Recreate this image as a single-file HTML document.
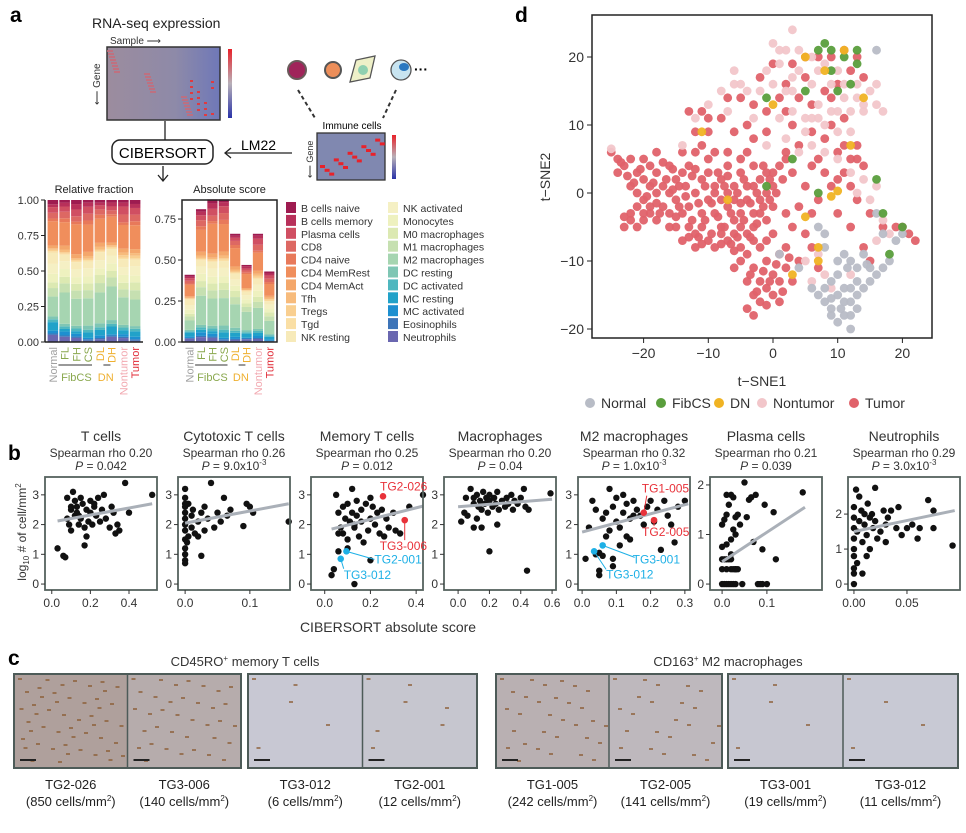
<!DOCTYPE html>
<html><head><meta charset="utf-8"><style>
body{margin:0;background:#fff;}
svg{display:block;font-family:"Liberation Sans",sans-serif;}
</style></head><body>
<svg id="fig" width="966" height="833" viewBox="0 0 966 833">
<defs>
<linearGradient id="cb" x1="0" y1="0" x2="0" y2="1"><stop offset="0" stop-color="#e8222a"/><stop offset="0.5" stop-color="#b8b0b8"/><stop offset="1" stop-color="#2a33a8"/></linearGradient>
<linearGradient id="hm" x1="0" y1="0" x2="1" y2="0"><stop offset="0" stop-color="#9c8c9e"/><stop offset="0.6" stop-color="#8e8aa8"/><stop offset="1" stop-color="#6f78b8"/></linearGradient>
</defs>
<rect x="0" y="0" width="966" height="833" fill="#fff"/>
<g>
<text x="10" y="22" font-size="21" font-weight="bold">a</text>
<text x="92" y="28" font-size="14" fill="#222">RNA-seq expression</text>
<text x="110" y="44" font-size="10" fill="#333">Sample ⟶</text>
<text x="0" y="0" font-size="10" fill="#333" transform="translate(100,105) rotate(-90)">⟵ Gene</text>
<rect x="107" y="47" width="113" height="73" fill="url(#hm)" stroke="#333" stroke-width="1.5"/>
<g id="hmred"></g>
<rect x="228" y="49" width="4" height="69" fill="url(#cb)"/>
<line x1="165" y1="121" x2="165" y2="140" stroke="#222" stroke-width="1.3"/>
<rect x="112" y="140" width="101" height="24" rx="8" fill="#fff" stroke="#222" stroke-width="1.5"/>
<text x="162.5" y="158" font-size="15" text-anchor="middle">CIBERSORT</text>
<line x1="163" y1="166" x2="163" y2="180" stroke="#222" stroke-width="1.3"/><path d="M158,175 L163,181 L168,175" fill="none" stroke="#222" stroke-width="1.3"/>
<text x="241" y="150" font-size="14">LM22</text>
<line x1="225" y1="153" x2="292" y2="153" stroke="#222" stroke-width="1.3"/><path d="M231,148 L225,153 L231,158" fill="none" stroke="#222" stroke-width="1.3"/>
<text x="352" y="129" font-size="10" text-anchor="middle">Immune cells</text>
<rect x="317" y="133" width="68" height="47" fill="#8088b0" stroke="#333" stroke-width="1.3"/>
<g id="imred"></g>
<rect x="392" y="135" width="4" height="44" fill="url(#cb)"/>
<text x="0" y="0" font-size="9" fill="#333" transform="translate(313,178) rotate(-90)">⟵ Gene</text>
<line x1="298" y1="90" x2="315" y2="118" stroke="#333" stroke-width="2" stroke-dasharray="4,3"/>
<line x1="396" y1="90" x2="383" y2="118" stroke="#333" stroke-width="2" stroke-dasharray="4,3"/>
<circle cx="297" cy="70" r="9" fill="#a0245a" stroke="#6a5a5a" stroke-width="2"/>
<circle cx="333" cy="70" r="8" fill="#ec8e5a" stroke="#555" stroke-width="2"/>
<path d="M350,82 L356,60 L375,56 L370,78 Z" fill="#eef0c8" stroke="#555" stroke-width="1.3"/><circle cx="363" cy="70" r="5" fill="#8fd0b0"/>
<circle cx="401" cy="70" r="10" fill="#c8e4f0" stroke="#555" stroke-width="1.3"/><ellipse cx="404" cy="67" rx="5" ry="4" fill="#2a78c0"/>
<text x="414" y="74" font-size="14" font-weight="bold">···</text>
</g>
<g id="bars"></g>
<g id="tsne"></g>
<g id="scat"></g>
<g id="ihc"></g>
</svg>
<script>
// ===== Panel a data =====
const cellTypes=["B cells naive","B cells memory","Plasma cells","CD8","CD4 naive","CD4 MemRest","CD4 MemAct","Tfh","Tregs","Tgd","NK resting","NK activated","Monocytes","M0 macrophages","M1 macrophages","M2 macrophages","DC resting","DC activated","MC resting","MC activated","Eosinophils","Neutrophils"];
const cellColors=["#9e1b50","#b8305a","#d04f62","#dd6863","#e8795a","#f08e5c","#f4a76b","#f7bb7c","#f9cf90","#fadfa5","#f7eab9","#f5f0c4","#eef1bf","#dce9b2","#c6e0b1","#a6d5b1","#7fc6b4","#4fb7bf","#21a2c9","#1d8fd0","#3d74b8","#6a67b0"];
const sampleGroups=["Normal","FL","FH","CS","DL","DH","Nontumor","Tumor"];
const groupColors=["#a0a0a0","#8aa84e","#8aa84e","#8aa84e","#efb030","#efb030","#f2a8b0","#e02a36"];
const fractions=[
[.03,.02,.03,.02,.02,.02,.02,.03],[.02,.03,.04,.03,.02,.03,.03,.03],[.04,.04,.05,.05,.03,.03,.06,.05],[.04,.05,.04,.05,.04,.03,.06,.05],
[.02,.03,.02,.03,.03,.02,.02,.03],[.17,.18,.22,.2,.18,.2,.18,.18],[.02,.03,.03,.03,.03,.02,.03,.03],[.01,.02,.01,.02,.02,.01,.02,.02],
[.01,.01,.01,.01,.01,.01,.02,.02],[.01,.01,.01,.01,.01,.01,.01,.01],[.08,.05,.05,.05,.06,.05,.06,.05],[.07,.06,.06,.06,.06,.06,.06,.07],
[.06,.06,.05,.05,.05,.06,.06,.05],[.04,.05,.05,.05,.06,.05,.05,.06],[.06,.07,.06,.06,.07,.07,.06,.07],[.14,.24,.2,.2,.23,.26,.21,.2],
[.02,.02,.02,.03,.03,.03,.02,.02],[.02,.02,.02,.02,.02,.02,.02,.02],[.06,.02,.02,.04,.04,.06,.03,.04],[.02,.03,.02,.01,.02,.01,.02,.02],
[.01,.01,.01,.01,.01,.01,.01,.01],[.05,.04,.03,.01,.02,.04,.03,.01]];
const absTotals=[.41,.81,.87,.87,.66,.47,.66,.43];
const relTicks=[0,.25,.5,.75,1];
const relTickLabels=["0.00","0.25","0.50","0.75","1.00"];
const absTicks=[0,.25,.5,.75];
const absTickLabels=["0.00","0.25","0.50","0.75"];

// ===== Panel d data (t-SNE) =====
const tumorPts=[[-25,6],[-24,5],[-23,4],[-24,3],[-22,5],[-21,3],[-22,1],[-20,2],[-21,0],[-19,1],[-20,-1],[-18,3],[-18,0],[-17,-2],[-19,-3],[-22,-4],[-23,-5],[-21,-5],[-20,-4],[-18,-4],[-16,-3],[-16,0],[-15,2],[-14,3],[-15,-1],[-14,-3],[-13,-5],[-12,-6],[-14,-7],[-12,-8],[-10,-7],[-11,-5],[-13,-2],[-12,0],[-11,2],[-13,4],[-10,3],[-9,1],[-10,-1],[-9,-3],[-8,-5],[-9,-8],[-7,-7],[-6,-6],[-5,-8],[-4,-6],[-6,-4],[-7,-2],[-5,-3],[-4,-1],[-6,1],[-5,3],[-3,1],[-2,-1],[-3,-3],[-1,0],[-2,2],[0,1],[-1,3],[1,4],[0,-2],[-1,-4],[-3,-5],[-8,2],[-7,4],[-12,6],[-14,6],[-18,6],[-16,4],[-20,5],[-17,1],[-15,-5],[-11,-3],[-8,-1],[-6,-1],[-4,1],[-2,-3],[-7,0],[-10,5],[-3,4],[0,3],[-5,-5],[-8,-6],[-16,-5],[-19,-2],
[-23.5,4.5],[-22.5,2.5],[-21.5,1.5],[-20.5,3.5],[-19.5,-0.5],[-18.5,1.5],[-17.5,-3],[-16.5,2],[-15.5,0.5],[-14.5,-2],[-13.5,1],[-12.5,-4],[-11.5,-6.5],[-10.5,-4],[-9.5,-6],[-8.5,-3.5],[-7.5,-5],[-6.5,-7.5],[-5.5,-6.5],[-4.5,-4],[-3.5,-6.5],[-2.5,-4.5],[-1.5,-2],[-0.5,-1],[0.5,0],[-0.5,2],[-1.5,4],[1.5,2],[2,5],[-2.5,0],[-3.5,-1.5],[-4.5,2],[-5.5,0],[-6.5,-3],[-7.5,1],[-8.5,3],[-9.5,-1.5],[-10.5,1],[-11.5,-1.5],[-12.5,2.5],[-13.5,-0.5],[-14.5,1],[-15.5,3.5],[-17,4.5],[-19,4],[-21,-2],[-22,-3],[-23,-3.5],[-20,-3],[-18,-1.5],[-15,-3.5],[-13,-6.5],[-11,-7.5],[-8,-7.5],[-6,-8.5],[-3,-7],[-5,-1.5],[-9,0],[-12,3.5],[-7,2.5],
[-2,-8],[-1,-10],[-3,-11],[-2,-13],[-4,-13],[-3,-15],[-1,-14],[0,-12],[1,-13],[2,-11],[0,-15],[-2,-16],[-4,-17],[-3,-18],[1,-16],[3,-13],[4,-10],[2,-8],[0,-6],[3,-5],[5,-6],[6,-3],[4,-2],[6,-8],[7,-11],[2,-3],[-5,-10],[-6,-11],[-4,-9],[-1,-7],[1,-9],[-1.5,-11.5],[-2.5,-14.5],[-0.5,-13],[0.5,-10.5],[1.5,-14.5],[-3.5,-12],[-1,-16.5],[2.5,-9.5],
[-13,12],[-11,12],[-12,9],[-10,11],[-8,11],[-6,9],[-4,10],[-3,8],[-1,9],[-7,14],[-5,14],[-3,13],[-1,12],[1,14],[2,12],[-2,17],[0,19],[3,19],[2,16],[5,17],[4,14],[6,13],[8,15],[9,14],[10,16],[12,18],[13,20],[11,21],[7,20],[5,20],[9,20],[14,17],[3,10],[6,9],[8,8],[10,6],[12,5],[13,7],[14,4],[11,3],[8,3],[6,4],[9,1],[12,1],[7,-1],[10,-3],[12,-5],[14,-8],[15,-10],[17,-5],[19,-5],[21,-6],[20,-5],[22,-7],[15,-3],[13,-1],[9,10],[11,11],[7,5],[4,7],[-9,6],[-11,7],[-7,6],[-5,5],[2,6],[11,7],[13,5],[10,2],[3,3],[5,1],[-10,9],[-4,6]];
const nontumorPts=[[0,22],[2,21],[1,19],[-1,18],[4,21],[6,20],[8,19],[10,18],[-6,18],[-5,16],[-8,15],[-7,12],[-4,15],[-2,15],[0,16],[2,15],[4,18],[6,16],[7,13],[5,11],[3,12],[1,11],[-1,7],[2,8],[4,6],[6,7],[8,10],[9,12],[10,9],[11,14],[13,14],[15,15],[16,13],[17,12],[14,12],[12,12],[8,6],[10,5],[12,3],[14,2],[16,1],[13,0],[15,-1],[17,-4],[18,-6],[16,-7],[5,-10],[7,-9],[8,-12],[6,-13],[9,-14],[12,-12],[3,24],[11,16],[7,18],[-10,13],[-12,11],[-14,7],[-25,6.5],[3,15],[5,9],[9,16],[13,16],[6,11],[1,21],[3,17],[7,11],[10,12],[12,9],[14,13],[16,16],[-3,11],[-6,16]];
const normalPts=[[7,-5],[8,-6],[6,-14],[7,-15],[8,-16],[9,-17],[10,-15],[11,-16],[12,-18],[13,-17],[10,-19],[11,-14],[12,-14],[9,-13],[8,-14],[13,-15],[14,-14],[10,-10],[11,-9],[12,-10],[13,-11],[14,-9],[15,-11],[16,-12],[17,-11],[18,-10],[17,-6],[19,-7],[20,-6],[16,-3],[12,-20],[9,-18],[4,-11],[16,21],[1,-9],[10,-12],[11,-18],[12,-16],[15,-13],[9,-15.5],[10.5,-17],[11.5,-11],[13,-13],[14.5,-10.5],[8,-8]];
const fibcsPts=[[7,21],[8,22],[9,21],[11,20],[13,21],[13,19],[12,16],[10,15],[9,18],[-1,14],[3,5],[16,2],[18,-9],[20,-5],[7,0],[17,-3],[-1,1],[5,15]];
const dnPts=[[11,21],[8,18],[5,20],[14,14],[0,13],[-11,9],[12,7],[9,-0.5],[10,0.3],[5,-3.5],[7,-8],[7,-10],[3,-12],[-7,-1]];
const tsneXTicks=[-20,-10,0,10,20];
const tsneYTicks=[-20,-10,0,10,20];

// ===== Panel b data =====
const scTitles=["T cells","Cytotoxic T cells","Memory T cells","Macrophages","M2 macrophages","Plasma cells","Neutrophils"];
const scRho=["0.20","0.26","0.25","0.20","0.32","0.21","0.29"];
const scP=["0.042","9.0x10","0.012","0.04","1.0x10","0.039","3.0x10"];
const scPExp=["","-3","","","-3","","-3"];
const sc1X=[.03,.06,.07,.08,.09,.1,.1,.11,.12,.12,.13,.14,.15,.15,.16,.17,.18,.18,.19,.2,.2,.21,.22,.23,.24,.25,.26,.27,.28,.3,.31,.32,.33,.34,.35,.38,.4,.52,.08,.13,.17,.22,.1,.14];
const sc1Y=[1.2,.95,.9,2.9,2.0,2.5,1.8,3.1,2.8,2.3,2.6,2.0,2.9,2.2,2.7,1.3,2.5,1.6,2.1,2.8,2.4,2.0,2.6,2.3,2.9,2.1,2.5,3.0,2.2,1.9,2.6,2.4,1.7,2.0,1.8,3.4,2.4,3.0,2.2,2.4,1.9,2.7,2.6,2.3];
const sc2X=[0,0,0,0,0,0,0,0,0,0,0,0,.005,.005,.01,.01,.012,.015,.02,.02,.025,.025,.03,.03,.035,.04,.045,.05,.055,.06,.065,.07,.09,.095,.1,.105,.16,0,.003];
const sc2Y=[3.2,2.9,2.6,2.4,2.2,2.0,1.8,1.5,1.2,1.0,.8,.7,2.7,1.6,2.3,1.9,2.5,1.7,2.1,1.6,2.4,.95,2.6,1.8,2.2,3.4,1.9,2.4,2.1,2.9,2.3,2.5,1.95,2.7,2.6,2.4,2.1,2.7,1.4];
const sc3X=[.03,.04,.05,.06,.06,.07,.08,.08,.09,.1,.1,.11,.12,.12,.13,.13,.14,.14,.15,.16,.16,.17,.18,.19,.2,.2,.21,.22,.23,.24,.25,.26,.27,.28,.3,.31,.33,.37,.43,.06,.1,.13,.2];
const sc3Y=[.3,.5,3.0,1.1,2.4,1.9,2.6,1.7,2.2,2.7,1.5,2.1,3.2,2.4,1.9,0,2.8,2.3,1.6,2.5,2.1,1.4,2.7,1.8,2.2,.8,2.6,2.0,2.4,1.7,2.5,1.6,2.2,1.9,2.4,1.8,1.7,2.6,3.0,1.7,1.2,2.0,2.9];
const sc4X=[.02,.04,.05,.06,.08,.1,.1,.12,.13,.14,.15,.16,.17,.18,.19,.2,.2,.22,.23,.24,.25,.26,.28,.3,.31,.32,.34,.35,.36,.38,.4,.42,.43,.45,.59,.1,.15,.25,.2,.44,.12];
const sc4Y=[2.1,2.4,2.9,2.3,3.2,2.7,2.9,3.0,2.6,2.8,2.5,3.1,2.7,2.9,2.4,2.8,3.0,2.6,2.9,2.7,3.1,2.5,2.8,2.6,2.9,2.7,3.0,2.5,2.8,2.7,2.9,3.2,2.6,2.5,3.05,1.9,1.9,2.0,1.1,.45,2.2];
const sc5X=[.01,.02,.03,.04,.04,.05,.05,.06,.07,.07,.08,.08,.09,.09,.1,.1,.11,.12,.12,.13,.13,.14,.14,.15,.16,.17,.18,.19,.2,.21,.22,.23,.24,.25,.26,.27,.28,.3,.09,.06,.05,.11,.15];
const sc5Y=[.85,1.9,2.8,2.5,1.0,.3,.45,2.2,1.6,2.4,3.2,1.8,2.6,.6,2.9,2.1,1.9,3.0,2.4,1.6,2.7,2.2,1.5,2.8,2.5,2.3,2.0,2.6,2.8,2.1,2.5,1.15,2.8,2.3,2.0,1.4,2.6,2.8,.85,.95,1.05,1.3,2.3];
const sc6X=[0,.005,.01,.015,.02,.025,.03,0,.01,.02,.03,0,.005,.01,.015,.02,.025,.03,.035,0,.01,.02,.03,0,.005,.01,.015,.02,.025,.03,.035,.04,.045,.08,.09,.1,.05,.055,.06,.065,.075,.09,.095,.115,.12,.18,.02,.025,.01,.07,.085];
const sc6Y=[0,0,0,0,0,0,0,.3,.3,.3,.3,.5,.5,.5,.5,.5,.3,.3,.3,.75,.8,.9,1.0,1.2,1.3,1.4,1.6,1.8,1.75,1.35,1.4,1.2,0,0,0,0,2.05,1.35,1.7,1.75,1.8,.7,1.6,1.45,.5,1.85,.6,1.1,1.8,.85,0];
const sc7X=[0,0,0,0,0,0,0,0,0,.002,.003,.005,.005,.007,.008,.01,.01,.012,.013,.015,.015,.017,.018,.02,.02,.022,.025,.028,.03,.03,.032,.035,.04,.042,.045,.05,.055,.06,.062,.07,.075,.075,.093,.012,.008,.003];
const sc7Y=[0,.3,.45,.8,1.0,1.3,1.6,1.9,2.2,2.7,1.5,2.5,1.8,2.1,1.2,1.7,2.0,1.4,2.3,1.9,1.0,2.0,1.6,1.8,2.75,1.3,1.5,2.1,1.7,1.2,1.9,2.1,1.6,2.2,1.4,1.6,1.7,1.3,1.6,2.4,2.1,1.6,1.1,.8,.3,.6];
const fitStartX=[.03,0,.03,0,0,0,0];
const fitStartY=[2.12,2.05,1.85,2.6,1.75,.45,1.5];
const fitEndX=[.52,.16,.43,.6,.31,.185,.095];
const fitEndY=[2.7,2.7,2.62,2.85,2.7,1.55,2.1];
const scXTicks=[[0,.2,.4],[0,.1],[0,.2,.4],[0,.2,.4,.6],[0,.1,.2,.3],[0,.1],[0,.05]];
const scXTickLabels=[["0.0","0.2","0.4"],["0.0","0.1"],["0.0","0.2","0.4"],["0.0","0.2","0.4","0.6"],["0.0","0.1","0.2","0.3"],["0.0","0.1"],["0.00","0.05"]];
const scYTicks=[[0,1,2,3],[0,1,2,3],[0,1,2,3],[0,1,2,3],[0,1,2,3],[0,1,2],[0,1,2]];
const hiPanel=[2,2,2,2,4,4,4,4];
const hiX=[.255,.35,.095,.07,.18,.21,.06,.035];
const hiY=[2.95,2.15,1.1,.85,2.4,2.15,1.3,1.1];
const hiLabel=["TG2-026","TG3-006","TG2-001","TG3-012","TG1-005","TG2-005","TG3-001","TG3-012"];
const hiRed=[1,1,0,0,1,1,0,0];

// ===== Panel c data =====
const ihcIds=["TG2-026","TG3-006","TG3-012","TG2-001","TG1-005","TG2-005","TG3-001","TG3-012"];
const ihcCounts=["850","140","6","12","242","141","19","11"];
const ihcStain=[0.55,0.4,0.05,0.08,0.35,0.25,0.06,0.04];

const NS="http://www.w3.org/2000/svg";
function mk(tag,attrs,parent,txt){const e=document.createElementNS(NS,tag);for(const k in attrs)e.setAttribute(k,attrs[k]);if(txt!==undefined)e.textContent=txt;parent.appendChild(e);return e;}

(function(){const g=document.getElementById('hmred');
for(let i=0;i<22;i++){mk('rect',{x:107+(i*37)%110,y:50+(i*23)%66,width:6,height:2,fill:'#c86a78',opacity:.8},g);}
for(let i=0;i<14;i++){mk('rect',{x:190+(i*7)%28,y:80+(i*11)%38,width:3,height:2,fill:'#e03a40'},g);}
const g2=document.getElementById('imred');
for(let i=0;i<14;i++){mk('rect',{x:320+i*4.6,y:165-i*2.2+(i%3)*6,width:5,height:3,fill:'#e8222a'},g2);} })();

(function(){const g=document.getElementById('bars');
const n=sampleGroups.length;
function drawChart(x0,x1,ymax,absMode,ticks,labels,title,boxed){
 const y0=342,yTop=200;const sy=v=>y0-(v/ymax)*(y0-yTop);
 const t=mk('text',{x:(x0+x1)/2,y:193,'font-size':11,'text-anchor':'middle',fill:'#222'},g,title);
 
 
 const bw=(x1-x0-4)/n;
 for(let b=0;b<n;b++){
  let tot=0;for(let k=0;k<cellTypes.length;k++)tot+=fractions[k][b];
  const scale=absMode?absTotals[b]:1;let acc=0;
  for(let k=cellTypes.length-1;k>=0;k--){const v=fractions[k][b]/tot*scale;
   const r=mk('rect',{x:x0+2+b*bw+0.6,y:sy(acc+v),width:bw-1.2,height:sy(acc)-sy(acc+v),fill:cellColors[k]},g);
   
   
   acc+=v;}
 }
 if(boxed){mk('rect',{x:x0,y:yTop,width:x1-x0,height:y0-yTop,fill:'none',stroke:'#222','stroke-width':1.5},g);}
 else{mk('line',{x1:x0,y1:yTop,x2:x0,y2:y0,stroke:'#222','stroke-width':1.5},g);mk('line',{x1:x0,y1:y0,x2:x1,y2:y0,stroke:'#222','stroke-width':1.5},g);}
 ticks.forEach((v,i)=>{mk('line',{x1:x0-4,y1:sy(v),x2:x0,y2:sy(v),stroke:'#222'},g);
  const tl=mk('text',{x:x0-6,y:sy(v)+4,'font-size':11,'text-anchor':'end',fill:'#333'},g,labels[i]);
  
  });
 for(let b=0;b<n;b++){const cx=x0+2+b*bw+bw/2;
  const tl=mk('text',{x:0,y:0,'font-size':11,'text-anchor':'end',fill:groupColors[b],transform:`translate(${cx+4},${y0+5}) rotate(-90)`},g,sampleGroups[b]);
  
  }
 const fx0=x0+2+bw*0.8,fx1=x0+2+bw*4-2;mk('line',{x1:fx0+2,y1:365,x2:fx1,y2:365,stroke:'#333'},g);
 mk('line',{x1:x0+2+bw*4.8,y1:365,x2:x0+2+bw*5.4,y2:365,stroke:'#333'},g);
 mk('text',{x:x0+2+bw*2.5,y:381,'font-size':11,'text-anchor':'middle',fill:'#8aa84e'},g,'FibCS');
 mk('text',{x:x0+2+bw*5,y:381,'font-size':11,'text-anchor':'middle',fill:'#efb030'},g,'DN');
}
drawChart(45,143,1,false,relTicks,relTickLabels,'Relative fraction',false);
drawChart(182,277,0.866,true,absTicks,absTickLabels,'Absolute score',true);
cellTypes.forEach((nm,i)=>{const col=i<11?0:1,row=i%11;const x=286+col*102,y=202+row*12.9;
 const r=mk('rect',{x:x,y:y,width:10,height:11,fill:cellColors[i]},g);
 
 
 const t=mk('text',{x:x+15,y:y+10,'font-size':10.5,fill:'#333'},g,nm);
 
 });
})();

(function(){const g=document.getElementById('tsne');
const X=v=>773+v*6.47,Y=v=>193-v*6.8;
mk('text',{x:515,y:22,'font-size':21,'font-weight':'bold'},g,'d');
const sets=[[tumorPts,'#e0626a'],[nontumorPts,'#f2c6ca'],[normalPts,'#b8bcc6'],[fibcsPts,'#5a9e3c'],[dnPts,'#f0b323']];
sets.forEach(([pts,c])=>pts.forEach(p=>{const d=mk('circle',{cx:X(p[0]),cy:Y(p[1]),r:4.4,fill:c,opacity:.95},g);
 
 }));
mk('rect',{x:592,y:15,width:340,height:323,fill:'none',stroke:'#222','stroke-width':1.5},g);
tsneXTicks.forEach(v=>{mk('line',{x1:X(v),y1:338,x2:X(v),y2:343,stroke:'#222'},g);
 const t=mk('text',{x:X(v),y:358,'font-size':14,'text-anchor':'middle',fill:'#333'},g,v<0?'\u2212'+(-v):String(v));
 
 });
tsneYTicks.forEach(v=>{mk('line',{x1:587,y1:Y(v),x2:592,y2:Y(v),stroke:'#222'},g);
 const t=mk('text',{x:584,y:Y(v)+5,'font-size':14,'text-anchor':'end',fill:'#333'},g,v<0?'\u2212'+(-v):String(v));
 
 });
mk('text',{x:762,y:386,'font-size':14,'text-anchor':'middle',fill:'#333'},g,'t\u2212SNE1');
mk('text',{x:0,y:0,'font-size':14,'text-anchor':'middle',fill:'#333',transform:'translate(550,177) rotate(-90)'},g,'t\u2212SNE2');
const leg=[['Normal','#b8bcc6',584],['FibCS','#5a9e3c',655],['DN','#f0b323',713],['Nontumor','#f2c6ca',756],['Tumor','#e0626a',848]];
leg.forEach(([n,c,x])=>{mk('circle',{cx:x+6,cy:403,r:5,fill:c},g);
 const t=mk('text',{x:x+17,y:408,'font-size':14,fill:'#333'},g,n);
 
 });
})();

(function(){const g=document.getElementById('scat');
mk('text',{x:8,y:460,'font-size':21,'font-weight':'bold'},g,'b');
const lefts=[45,178,311,444,578,710,848],W=112,T=477,B=590;
const xdom=[[-.035,.545],[-.011,.162],[-.06,.43],[-.09,.625],[-.012,.315],[-.027,.223],[-.0056,.1]];
const ydom=[[-.2,3.6],[-.2,3.6],[-.2,3.6],[-.2,3.6],[-.2,3.6],[-.12,2.16],[-.17,3.06]];
const XS=[sc1X,sc2X,sc3X,sc4X,sc5X,sc6X,sc7X],YS=[sc1Y,sc2Y,sc3Y,sc4Y,sc5Y,sc6Y,sc7Y];
for(let i=0;i<7;i++){const L=lefts[i];
 const sx=v=>L+(v-xdom[i][0])/(xdom[i][1]-xdom[i][0])*W, sy=v=>B-(v-ydom[i][0])/(ydom[i][1]-ydom[i][0])*(B-T);
 const cx=L+W/2;
 const tt=mk('text',{x:cx,y:441,'font-size':14,'text-anchor':'middle',fill:'#333'},g,scTitles[i]);
 
 
 mk('text',{x:cx,y:457,'font-size':12,'text-anchor':'middle',fill:'#333'},g,'Spearman rho '+scRho[i]);
 const pt=mk('text',{x:cx,y:470,'font-size':12,'text-anchor':'middle',fill:'#333'},g);
 mk('tspan',{'font-style':'italic'},pt,'P');mk('tspan',{},pt,' = '+scP[i]);
 if(scPExp[i])mk('tspan',{dy:-5,'font-size':8},pt,scPExp[i]);
 XS[i].forEach((v,j)=>{const d=mk('circle',{cx:sx(v),cy:sy(YS[i][j]),r:3.2,fill:'#111'},g);
  
  });
 const ln=mk('line',{x1:sx(fitStartX[i]),y1:sy(fitStartY[i]),x2:sx(fitEndX[i]),y2:sy(fitEndY[i]),stroke:'#aab0b8','stroke-width':3},g);
 
 
 mk('rect',{x:L,y:T,width:W,height:B-T,fill:'none',stroke:'#55625e','stroke-width':1.8},g);
 scXTicks[i].forEach((v,k)=>{mk('line',{x1:sx(v),y1:B,x2:sx(v),y2:B+4,stroke:'#333'},g);
  const t=mk('text',{x:sx(v),y:B+17,'font-size':12,'text-anchor':'middle',fill:'#333'},g,scXTickLabels[i][k]);
  
  });
 scYTicks[i].forEach(v=>{mk('line',{x1:L-4,y1:sy(v),x2:L,y2:sy(v),stroke:'#333'},g);
  const t=mk('text',{x:L-6,y:sy(v)+4,'font-size':12,'text-anchor':'end',fill:'#333'},g,String(v));
  
  });
 hiPanel.forEach((p,h)=>{if(p!==i)return;const col=hiRed[h]?'#e8323a':'#1eb0e6';
  const px=sx(hiX[h]),py=sy(hiY[h]);
  let lx,ly;
  if(hiLabel[h]==='TG2-026'){lx=px-3;ly=py-6;}
  else if(hiLabel[h]==='TG3-006'){lx=px-25;ly=py+30;mk('line',{x1:px,y1:py,x2:px,y2:py+20,stroke:col},g);}
  else if(i===2&&hiLabel[h]==='TG2-001'){lx=px+28;ly=py+12;mk('line',{x1:px,y1:py,x2:px+28,y2:py+8,stroke:col},g);}
  else if(i===2){lx=px+3;ly=py+20;mk('line',{x1:px,y1:py,x2:px+3,y2:py+10,stroke:col},g);}
  else if(hiLabel[h]==='TG1-005'){lx=px-2;ly=py-20;mk('line',{x1:px,y1:py,x2:px+3,y2:py-17,stroke:col},g);}
  else if(hiLabel[h]==='TG2-005'){lx=px-12;ly=py+16;mk('line',{x1:px,y1:py,x2:px,y2:py+6,stroke:col},g);}
  else if(hiLabel[h]==='TG3-001'){lx=px+30;ly=py+18;mk('line',{x1:px,y1:py,x2:px+32,y2:py+12,stroke:col},g);}
  else {lx=px+12;ly=py+27;mk('line',{x1:px,y1:py,x2:px+12,y2:py+18,stroke:col},g);}
  mk('circle',{cx:px,cy:py,r:3.3,fill:col},g);
  const t=mk('text',{x:lx,y:ly,'font-size':12,fill:col},g,hiLabel[h]);
  
  });
}
mk('text',{x:388,y:632,'font-size':14,'text-anchor':'middle',fill:'#333'},g,'CIBERSORT absolute score');
const yl=mk('text',{x:0,y:0,'font-size':12,'text-anchor':'middle',fill:'#333',transform:'translate(26,532) rotate(-90)'},g);
mk('tspan',{},yl,'log');mk('tspan',{dy:3,'font-size':8},yl,'10');mk('tspan',{dy:-3},yl,' # of cell/mm');mk('tspan',{dy:-5,'font-size':8},yl,'2');
})();

(function(){const g=document.getElementById('ihc');
mk('text',{x:8,y:665,'font-size':21,'font-weight':'bold'},g,'c');
const t1=mk('text',{x:245,y:666,'font-size':13,'text-anchor':'middle',fill:'#333'},g);mk('tspan',{},t1,'CD45RO');mk('tspan',{dy:-5,'font-size':8},t1,'+');mk('tspan',{dy:5},t1,' memory T cells');
const t2=mk('text',{x:728,y:666,'font-size':13,'text-anchor':'middle',fill:'#333'},g);mk('tspan',{},t2,'CD163');mk('tspan',{dy:-5,'font-size':8},t2,'+');mk('tspan',{dy:5},t2,' M2 macrophages');
const frames=[[14,241],[248,477],[496,722],[728,958]];
const top=674,h=94;
frames.forEach((f,fi)=>{const mid=(f[0]+f[1])/2;
 [[f[0],mid],[mid,f[1]]].forEach((s,si)=>{const k=fi*2+si;const st=ihcStain[k];
  const r=Math.round(202-st*50),gg=Math.round(204-st*80),b=Math.round(216-st*110);
  const im=mk('rect',{x:s[0],y:top,width:s[1]-s[0],height:h,fill:`rgb(${r},${gg},${b})`},g);
  
  
  for(let q=0;q<Math.round(st*90);q++){mk('rect',{x:s[0]+4+(q*37)%(s[1]-s[0]-8),y:top+4+(q*23)%86,width:4,height:2,fill:'#8a5a30',opacity:.7},g);}
  mk('line',{x1:s[0]+6,y1:760,x2:s[0]+22,y2:760,stroke:'#222','stroke-width':2},g);
  const cx=(s[0]+s[1])/2;
  const l1=mk('text',{x:cx,y:789,'font-size':13,'text-anchor':'middle',fill:'#222'},g,ihcIds[k]);
  
  
  const l2=mk('text',{x:cx,y:806,'font-size':13,'text-anchor':'middle',fill:'#222'},g);
  mk('tspan',{},l2,'('+ihcCounts[k]+' cells/mm');mk('tspan',{dy:-5,'font-size':8},l2,'2');mk('tspan',{dy:5},l2,')');});
 mk('rect',{x:f[0],y:top,width:f[1]-f[0],height:h,fill:'none',stroke:'#4d5b58','stroke-width':2},g);
 mk('line',{x1:mid,y1:top,x2:mid,y2:top+h,stroke:'#4d5b58','stroke-width':1.5},g);});
})();
</script>
</body></html>
